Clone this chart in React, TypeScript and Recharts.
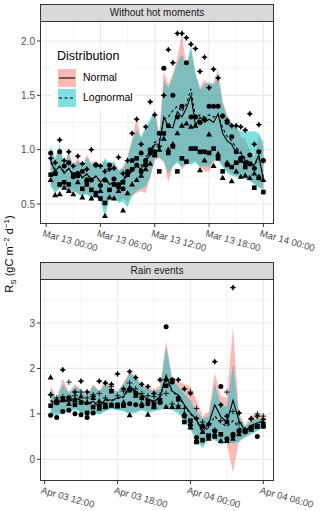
import React from "react";
import {
  ComposedChart,
  Area,
  Line,
  Scatter,
  XAxis,
  YAxis,
  CartesianGrid,
} from "recharts";

// ---- panel A: "Without hot moments" (hours after Mar 13 00:00)
const hoursA = [
  0.5, 1, 1.5, 2, 2.5, 3, 3.5, 4, 4.5, 5, 5.5, 6, 6.5, 7, 7.5, 8, 8.5, 9, 9.5,
  10, 10.5, 11, 11.5, 12, 12.5, 13, 13.5, 14, 14.5, 15, 15.5, 16, 16.5, 17,
  17.5, 18, 18.5, 19, 19.5, 20, 20.5, 21, 21.5, 22, 22.5, 23, 23.5, 24,
];
const ticksA = [0, 6, 12, 18, 24];
const tickLabelsA = [
  "Mar 13 00:00",
  "Mar 13 06:00",
  "Mar 13 12:00",
  "Mar 13 18:00",
  "Mar 14 00:00",
];
const normLowA = [
  0.68, 0.62, 0.65, 0.66, 0.61, 0.63, 0.6, 0.58, 0.6, 0.56, 0.57, 0.54, 0.45,
  0.55, 0.56, 0.52, 0.55, 0.52, 0.58, 0.6, 0.62, 0.6, 0.74, 0.9, 0.92, 0.88,
  0.7, 0.84, 0.9, 0.82, 0.86, 0.88, 0.9, 0.84, 0.8, 0.8, 0.88, 0.92, 0.86, 0.8,
  0.78, 0.76, 0.76, 0.75, 0.72, 0.69, 0.66, 0.64,
];
const normHighA = [
  1.0, 0.9, 1.02, 0.88, 0.98, 0.86, 0.92, 0.86, 0.95, 0.88, 0.9, 0.86, 0.9,
  0.84, 0.9, 0.8, 0.85, 0.94, 1.1, 1.3, 1.1, 1.2, 1.25, 1.36, 1.15, 1.72, 1.6,
  1.7, 1.85, 2.07, 1.78, 1.92, 1.7, 1.58, 1.64, 1.6, 1.62, 1.74, 1.45, 1.32,
  1.25, 1.22, 1.12, 1.1, 1.0, 0.92, 1.13, 1.02,
];
const logLowA = [
  0.66, 0.6, 0.64, 0.65, 0.6, 0.62, 0.59, 0.57, 0.59, 0.55, 0.56, 0.52, 0.38,
  0.54, 0.56, 0.51, 0.52, 0.47, 0.57, 0.62, 0.64, 0.66, 0.75, 0.92, 0.93, 0.9,
  0.78, 0.85, 0.88, 0.84, 0.87, 0.86, 0.88, 0.84, 0.85, 0.84, 0.9, 0.9, 0.84,
  0.78, 0.76, 0.75, 0.74, 0.73, 0.71, 0.68, 0.65, 0.63,
];
const logHighA = [
  1.04, 0.92, 1.05, 0.86, 0.96, 0.84, 0.9, 0.84, 0.92, 0.87, 0.88, 0.85, 0.92,
  0.88, 0.88, 0.82, 0.82, 0.92, 1.08, 1.18, 1.12, 1.21, 1.28, 1.37, 1.1, 1.64,
  1.57, 1.67, 1.8, 1.88, 1.76, 1.96, 1.7, 1.55, 1.6, 1.62, 1.6, 1.66, 1.43, 1.3,
  1.24, 1.2, 1.17, 1.17, 1.17, 1.17, 1.15, 1.07,
];
const normMeanA = [
  0.9, 0.8, 0.85, 0.78, 0.83, 0.76, 0.8, 0.74, 0.78, 0.72, 0.76, 0.7, 0.74,
  0.68, 0.7, 0.66, 0.72, 0.76, 0.8, 0.85, 0.82, 0.9, 0.95, 1.05, 1.05, 1.3,
  1.21, 1.2, 1.35, 1.3, 1.38, 1.5, 1.22, 1.3, 1.25, 1.28, 1.25, 1.33, 1.15,
  1.08, 1.05, 0.97, 0.97, 0.9, 0.85, 0.86, 0.95, 0.72,
];
const logMeanA = [
  0.88, 0.82, 0.84, 0.8, 0.82, 0.78, 0.79, 0.75, 0.77, 0.73, 0.75, 0.71, 0.73,
  0.69, 0.7, 0.68, 0.73, 0.78, 0.82, 0.86, 0.85, 0.93, 0.98, 1.07, 1.08, 1.28,
  1.3, 1.36, 1.4, 1.35, 1.42, 1.56, 1.3, 1.32, 1.3, 1.32, 1.3, 1.32, 1.2, 1.12,
  1.08, 1.02, 0.98, 0.92, 0.88, 0.86, 0.92, 0.75,
];
const circleA = [
  0.97, 0.78, 0.98, 0.85, 0.88, 0.75, 0.78, 0.8, 0.72, 0.72, 0.86, 0.67, 0.72,
  0.86, 0.73, 0.68, 0.64, 0.8, 0.9, 0.86, 0.97, 0.9, 1.0, 0.98, 1.15, 1.75,
  1.22, 1.5, 1.3, 1.4, 1.8, 1.3, 1.3, 1.25, 1.28, 1.4, 1.4, 1.4, 1.31, 1.25,
  1.12, 0.98, 0.92, 0.88, 0.95, 0.83, 0.98, 0.9,
];
const triangleA = [
  0.72, 0.58, 0.59, 0.65, 0.62, 0.59, 0.7, 0.56, 0.72, 0.55, 0.58, 0.62, 0.39,
  0.56, 0.55, 0.62, 0.44, 0.6, 0.68, 0.72, 0.76, 0.82, 0.87, 0.95, 1.0, 1.1,
  1.0, 1.05, 1.15, 1.22, 1.24, 1.21, 1.22, 0.81, 0.9, 1.14, 0.85, 0.96, 0.74,
  0.88, 0.71, 0.8, 0.75, 0.76, 0.74, 0.78, 0.75, 0.72,
];
const squareA = [
  0.77, 0.78, 0.68, 0.7, 0.68, 0.77, 0.76, 0.64, 0.68, 0.63, 0.6, 0.55, 0.51,
  0.63, 0.68, 0.66, 0.7, 0.77, 0.82, 0.92, 0.8, 0.86, 0.97, 0.95, 0.8, 1.15,
  0.97, 1.03, 0.8, 0.92, 0.89, 1.01, 1.01, 0.98, 0.98, 0.97, 1.01, 0.92, 0.8,
  0.86, 0.84, 0.88, 0.9, 0.84, 0.87, 0.65, 0.74, 0.61,
];
const diamondA = [
  0.92, 0.88, 1.09, 0.9, 0.98, 0.85, 0.94, 0.87, 0.82, 1.0, 0.86, 0.85, 0.8,
  0.82, 0.83, 0.93, 0.78, 0.9, 1.15, 1.28, 1.05, 1.21, 1.44, 1.32, 1.03, 1.5,
  1.92, 1.8, 2.07, 2.07, 2.03, 1.97, 1.93, 1.72, 1.85, 1.57, 1.74, 1.66, 1.31,
  1.27, 1.22, 1.22, 1.21, 1.18, 1.33, 1.05, 1.23, 0.9,
];

// ---- panel B: "Rain events" (hours after Apr 03 12:00)
const hoursB = [
  0.5, 1, 1.5, 2, 2.5, 3, 3.5, 4, 4.5, 5, 5.5, 6, 6.5, 7, 7.5, 8, 8.5, 9, 9.5,
  10, 10.5, 11, 11.5, 12, 12.5, 13, 13.5, 14, 14.5, 15, 15.5, 16, 16.5, 17,
  17.5, 18,
];
const ticksB = [0, 6, 12, 18];
const tickLabelsB = [
  "Apr 03 12:00",
  "Apr 03 18:00",
  "Apr 04 00:00",
  "Apr 04 06:00",
];
const normLowB = [
  1.05, 1.0, 1.05, 1.1, 1.12, 1.05, 1.0, 1.05, 1.0, 1.08, 1.12, 1.1, 1.08, 1.02,
  1.05, 1.1, 1.05, 1.08, 1.1, 1.15, 1.1, 1.05, 0.9, 0.7, 0.45, 0.3, 0.5, 0.45,
  0.35, 0.35, -0.28, 0.4, 0.5, 0.58, 0.65, 0.75,
];
const normHighB = [
  1.62, 1.35, 1.78, 1.48, 1.65, 1.55, 1.4, 1.65, 1.5, 1.75, 1.58, 1.5, 1.7,
  1.92, 1.85, 1.65, 1.58, 1.55, 1.62, 2.6, 1.8, 1.72, 1.65, 1.6, 1.3, 0.95,
  1.05, 1.9, 1.4, 1.35, 2.9, 1.0, 0.75, 0.95, 1.0, 0.98,
];
const logLowB = [
  1.0, 0.95, 1.02, 1.05, 1.08, 1.02, 0.98, 1.02, 0.98, 1.05, 1.1, 1.08, 1.05,
  1.0, 1.02, 1.08, 1.02, 1.05, 1.08, 1.12, 1.08, 1.0, 0.85, 0.65, 0.4, 0.25,
  0.45, 0.42, 0.32, 0.38, 0.35, 0.38, 0.48, 0.55, 0.62, 0.7,
];
const logHighB = [
  1.55, 1.32, 1.65, 1.45, 1.6, 1.52, 1.38, 1.62, 1.48, 1.65, 1.55, 1.48, 1.65,
  1.9, 1.8, 1.62, 1.55, 1.5, 1.55, 2.48, 1.75, 1.6, 1.45, 1.3, 1.05, 0.9, 0.95,
  1.65, 1.2, 1.15, 2.1, 0.95, 0.72, 0.85, 0.9, 0.9,
];
const normMeanB = [
  1.3, 1.22, 1.32, 1.28, 1.35, 1.3, 1.22, 1.28, 1.16, 1.32, 1.3, 1.35, 1.38,
  1.62, 1.48, 1.42, 1.32, 1.28, 1.38, 1.85, 1.5, 1.42, 1.2, 1.02, 0.88, 0.6,
  0.78, 1.2, 0.94, 0.82, 1.3, 0.85, 0.62, 0.75, 0.8, 0.85,
];
const logMeanB = [
  1.28, 1.2, 1.3, 1.26, 1.33, 1.28, 1.2, 1.26, 1.15, 1.3, 1.28, 1.34, 1.36,
  1.58, 1.46, 1.4, 1.3, 1.26, 1.36, 1.8, 1.48, 1.4, 1.18, 1.0, 0.85, 0.58, 0.7,
  0.95, 0.8, 0.72, 0.85, 0.7, 0.6, 0.7, 0.76, 0.78,
];
const circleB = [
  0.97, 0.92, 1.05, 1.08, 1.0, 0.98, 0.92, 1.02, 1.18, 1.15, 1.2, 1.18, 1.2,
  1.22, 1.2, 1.18, 1.22, 1.15, 1.25, 2.92, 1.7, 1.35, 0.95, 0.75, 0.48, 0.72,
  0.5, 0.62, 1.6, 0.45, 0.55, 0.62, 0.6, 0.68, 0.5, 0.72,
];
const triangleB = [
  1.8, 1.25, 1.3, 1.22, 1.3, 1.38, 1.25, 1.35, 1.28, 1.15, 1.18, 1.16, 1.25,
  0.97, 1.4, 1.22, 0.98, 1.15, 1.28, 1.15, 1.15, 1.15, 1.0, 0.7, 0.4, 0.6, 0.45,
  0.55, 0.4, 0.4, 0.45, 0.55, 0.62, 0.65, 0.72, 0.74,
];
const squareB = [
  1.18, 1.25, 1.32, 1.35, 1.2, 1.25, 1.02, 1.15, 1.12, 1.2, 1.5, 1.2, 1.18, 1.52,
  1.45, 1.35, 1.28, 1.22, 1.3, 1.62, 1.74, 1.32, 0.82, 0.85, 0.38, 0.42, 0.52,
  0.5, 0.55, 0.82, 0.52, 0.62, 0.62, 0.7, 0.72, 0.78,
];
const plusB = [
  1.42, 1.35, 1.38, 1.7, 1.4, 1.48, 1.35, 1.42, 1.45, 1.35, 1.6, 1.4, 1.5, 1.68,
  1.55, 1.45, 1.4, 1.38, 1.42, 1.45, 1.22, 1.18, 1.12, 1.48, 1.12, 0.82, 0.75,
  0.65, 0.85, 1.48, 1.05, 0.8, 0.62, 0.88, 1.0, 0.95,
];
const diamondB = [
  1.42, 1.3, 1.97, 1.35, 1.48, 1.72, 1.48, 1.38, 1.72, 1.68, 1.65, 1.88, 1.55,
  1.93, 1.8, 1.65, 1.6, 1.45, 1.75, 1.75, 1.75, 1.75, 1.55, 1.45, 0.9, 0.75,
  0.78, 2.15, 1.2, 0.95, 3.78, 1.02, 0.65, 0.9, 0.95, 0.88,
];

const NORMAL_FILL = "#F8766D";
const LOGNORMAL_FILL = "#00BFC4";
const FONT = "'Liberation Sans', Arial, sans-serif";

type Row = Record<string, any>;

const rowsA: Row[] = hoursA.map((h, i) => ({
  h,
  nBand: [normLowA[i], normHighA[i]],
  lBand: [logLowA[i], logHighA[i]],
  nMean: normMeanA[i],
  lMean: logMeanA[i],
  circle: circleA[i],
  triangle: triangleA[i],
  square: squareA[i],
  diamond: diamondA[i],
}));

const rowsB: Row[] = hoursB.map((h, i) => ({
  h,
  nBand: [normLowB[i], normHighB[i]],
  lBand: [logLowB[i], logHighB[i]],
  nMean: normMeanB[i],
  lMean: logMeanB[i],
  circle: circleB[i],
  triangle: triangleB[i],
  square: squareB[i],
  plus: plusB[i],
  diamond: diamondB[i],
}));

function marker(kind: string) {
  return (props: any) => {
    const { cx, cy } = props;
    if (cx == null || cy == null || Number.isNaN(cx) || Number.isNaN(cy)) {
      return <g />;
    }
    switch (kind) {
      case "circle":
        return <circle cx={cx} cy={cy} r={2.5} fill="#000" />;
      case "triangle":
        return (
          <polygon
            points={`${cx},${cy - 3.2} ${cx - 3},${cy + 2} ${cx + 3},${cy + 2}`}
            fill="#000"
          />
        );
      case "square":
        return <rect x={cx - 2.3} y={cy - 2.3} width={4.6} height={4.6} fill="#000" />;
      case "plus":
        return (
          <g stroke="#000" strokeWidth={0.9}>
            <line x1={cx - 2.8} y1={cy} x2={cx + 2.8} y2={cy} />
            <line x1={cx} y1={cy - 2.8} x2={cx} y2={cy + 2.8} />
          </g>
        );
      default:
        return (
          <g>
            <polygon
              points={`${cx},${cy - 2.4} ${cx + 2.4},${cy} ${cx},${cy + 2.4} ${cx - 2.4},${cy}`}
              fill="#000"
            />
            <g stroke="#000" strokeWidth={1}>
              <line x1={cx - 2.8} y1={cy} x2={cx + 2.8} y2={cy} />
              <line x1={cx} y1={cy - 2.8} x2={cx} y2={cy + 2.8} />
            </g>
          </g>
        );
    }
  };
}

function SlantTick(props: any) {
  const { x, y, payload, ticks, labels } = props;
  const label = labels[ticks.indexOf(payload.value)];
  return (
    <text
      x={x - 2}
      y={y}
      transform={`rotate(16 ${x - 2} ${y})`}
      textAnchor="start"
      dominantBaseline="hanging"
      fontSize={9.6}
      fontFamily={FONT}
      fill="#4D4D4D"
    >
      {label}
    </text>
  );
}

interface PanelProps {
  rows: Row[];
  title: string;
  top: number;
  height: number;
  axisHeight: number;
  xDomain: [number, number];
  xTicks: number[];
  xLabels: string[];
  xGrid: number[];
  yDomain: [number, number];
  yTicks: number[];
  yGrid: number[];
  yFmt: (v: number) => string;
  series: string[];
}

const LEFT = 40;
const WIDTH = 234;

function Panel(p: PanelProps) {
  return (
    <>
      <div
        style={{
          position: "absolute",
          left: LEFT,
          top: p.top - 17,
          width: WIDTH,
          height: 18,
          boxSizing: "border-box",
          background: "#D9D9D9",
          border: "1px solid #333",
          fontSize: 10,
          lineHeight: "16px",
          textAlign: "center",
          color: "#1A1A1A",
        }}
      >
        {p.title}
      </div>
      <div style={{ position: "absolute", left: 0, top: p.top }}>
        <ComposedChart
          width={320}
          height={p.height + p.axisHeight}
          data={p.rows}
          margin={{ top: 0, right: 320 - LEFT - WIDTH, bottom: 0, left: 0 }}
        >
          <CartesianGrid
            stroke="#EEEEEE"
            strokeWidth={0.7}
            horizontalValues={p.yGrid}
            verticalValues={p.xGrid}
          />
          <CartesianGrid
            stroke="#EBEBEB"
            strokeWidth={1.2}
            horizontalValues={p.yTicks}
            verticalValues={p.xTicks}
          />
          <XAxis
            dataKey="h"
            type="number"
            domain={p.xDomain}
            allowDataOverflow
            ticks={p.xTicks}
            interval={0}
            height={p.axisHeight}
            axisLine={false}
            tickLine={{ stroke: "#333" }}
            tickSize={3}
            tickMargin={2}
            tick={<SlantTick ticks={p.xTicks} labels={p.xLabels} />}
          />
          <YAxis
            type="number"
            domain={p.yDomain}
            allowDataOverflow
            ticks={p.yTicks}
            interval={0}
            width={LEFT}
            axisLine={false}
            tickLine={{ stroke: "#333" }}
            tickSize={3}
            tickMargin={2}
            tickFormatter={p.yFmt}
            tick={{ fontSize: 10, fill: "#4D4D4D", fontFamily: FONT }}
          />
          <Area
            type="linear"
            dataKey="nBand"
            stroke="none"
            fill={NORMAL_FILL}
            fillOpacity={0.5}
            isAnimationActive={false}
            activeDot={false}
          />
          <Area
            type="linear"
            dataKey="lBand"
            stroke="none"
            fill={LOGNORMAL_FILL}
            fillOpacity={0.5}
            isAnimationActive={false}
            activeDot={false}
          />
          <Line
            type="linear"
            dataKey="nMean"
            stroke="#000"
            strokeWidth={1.1}
            dot={false}
            activeDot={false}
            isAnimationActive={false}
          />
          <Line
            type="linear"
            dataKey="lMean"
            stroke="#000"
            strokeWidth={1.1}
            strokeDasharray="3 2.5"
            dot={false}
            activeDot={false}
            isAnimationActive={false}
          />
          {p.series.map((s) => (
            <Scatter
              key={s}
              dataKey={s}
              shape={marker(s)}
              isAnimationActive={false}
            />
          ))}
        </ComposedChart>
      </div>
      <div
        style={{
          position: "absolute",
          left: LEFT,
          top: p.top,
          width: WIDTH,
          height: p.height,
          boxSizing: "border-box",
          border: "1px solid #333",
          pointerEvents: "none",
        }}
      />
    </>
  );
}

function LegendBox() {
  const keyStyle = (fill: string): React.CSSProperties => ({
    position: "absolute",
    left: 6,
    width: 18,
    height: 18,
    background: fill,
  });
  return (
    <div
      style={{
        position: "absolute",
        left: 52,
        top: 46,
        width: 84,
        height: 64,
        background: "#fff",
        color: "#000",
      }}
    >
      <div style={{ position: "absolute", left: 5, top: 3, fontSize: 12.5 }}>
        Distribution
      </div>
      <div style={{ ...keyStyle("rgba(248,118,109,0.5)"), top: 23 }}>
        <svg width={18} height={18}>
          <line x1={1} y1={9} x2={17} y2={9} stroke="#000" strokeWidth={1.1} />
        </svg>
      </div>
      <div style={{ ...keyStyle("rgba(0,191,196,0.5)"), top: 43 }}>
        <svg width={18} height={18}>
          <line
            x1={1}
            y1={9}
            x2={17}
            y2={9}
            stroke="#000"
            strokeWidth={1.1}
            strokeDasharray="3 2.5"
          />
        </svg>
      </div>
      <div style={{ position: "absolute", left: 31, top: 25, fontSize: 10.5 }}>
        Normal
      </div>
      <div style={{ position: "absolute", left: 31, top: 45, fontSize: 10.5 }}>
        Lognormal
      </div>
    </div>
  );
}

export default function App() {
  return (
    <div
      style={{
        position: "relative",
        width: 320,
        height: 511,
        background: "#fff",
        fontFamily: FONT,
        overflow: "hidden",
      }}
    >
      <style>{`body{margin:0}`}</style>
      <Panel
        rows={rowsA}
        title="Without hot moments"
        top={21}
        height={203}
        axisHeight={34}
        xDomain={[-0.675, 25.175]}
        xTicks={ticksA}
        xLabels={tickLabelsA}
        xGrid={[3, 9, 15, 21]}
        yDomain={[0.316, 2.184]}
        yTicks={[0.5, 1, 1.5, 2]}
        yGrid={[0.75, 1.25, 1.75]}
        yFmt={(v) => v.toFixed(1)}
        series={["diamond", "circle", "square", "triangle"]}
      />
      <LegendBox />
      <Panel
        rows={rowsB}
        title="Rain events"
        top={279}
        height={202}
        axisHeight={30}
        xDomain={[-0.375, 18.875]}
        xTicks={ticksB}
        xLabels={tickLabelsB}
        xGrid={[3, 9, 15]}
        yDomain={[-0.478, 3.969]}
        yTicks={[0, 1, 2, 3]}
        yGrid={[0.5, 1.5, 2.5, 3.5]}
        yFmt={(v) => String(v)}
        series={["plus", "diamond", "circle", "square", "triangle"]}
      />
      <div
        style={{
          position: "absolute",
          left: 10,
          top: 254,
          transform: "translate(-50%, -50%) rotate(-90deg)",
          whiteSpace: "nowrap",
          fontSize: 11,
          color: "#000",
        }}
      >
        R<sub style={{ fontSize: 8 }}>S</sub> (gC m
        <sup style={{ fontSize: 8 }}>−2</sup> d<sup style={{ fontSize: 8 }}>−1</sup>)
      </div>
    </div>
  );
}
